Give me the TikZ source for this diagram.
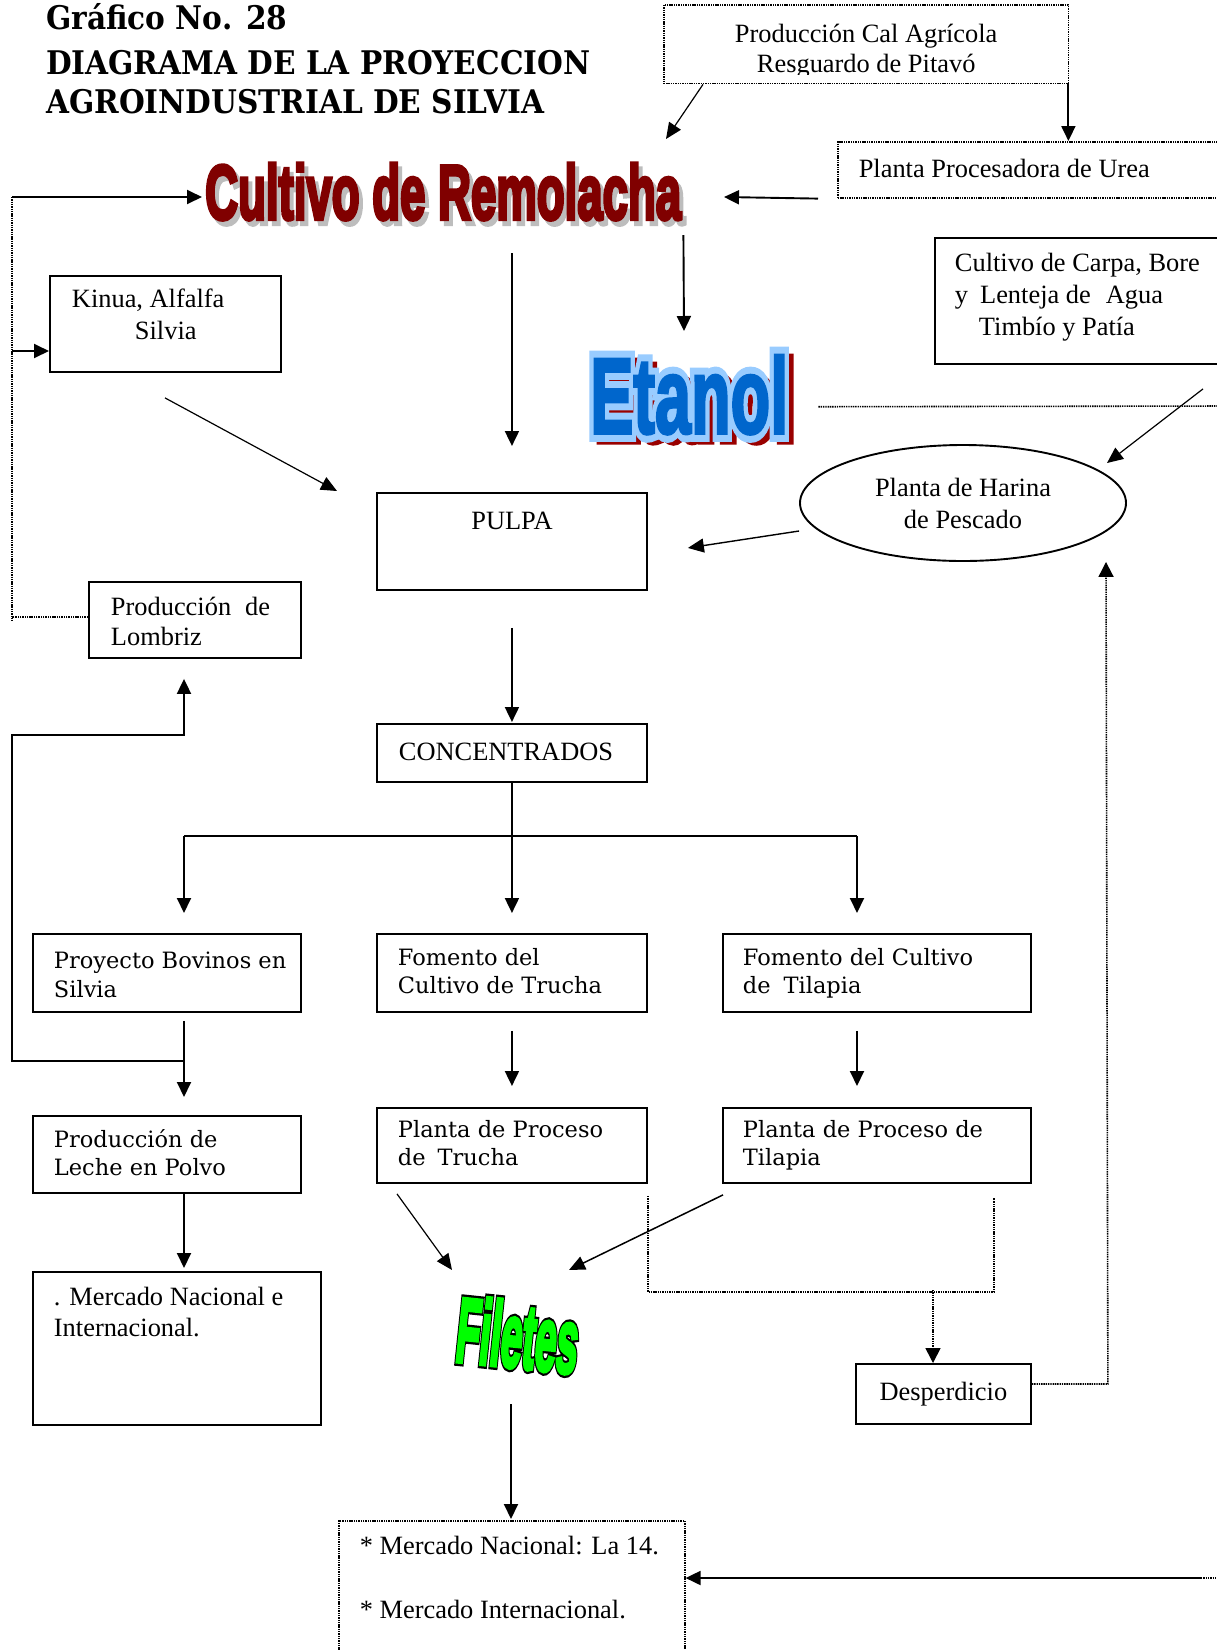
\documentclass[tikz,border=0pt]{standalone}
\usepackage{fontspec}
\usepackage{graphicx}
\setmainfont{Liberation Serif}
\newfontfamily\dvsfont{DejaVu Serif}
\newfontfamily\waM{Liberation Sans Bold}[FakeBold=5]
\newfontfamily\waE{Liberation Sans Bold}[FakeBold=3]
\newfontfamily\waO{Liberation Sans Bold}[FakeBold=16]
\newfontfamily\waS{Liberation Sans Bold}[FakeBold=12]
\newfontfamily\waF{Liberation Sans Bold}[FakeBold=10]
\usetikzlibrary{arrows.meta,shapes.geometric,calc}
\definecolor{remred}{HTML}{800000}
\definecolor{shgray}{HTML}{BDBDBD}
\definecolor{etblue}{HTML}{0066CC}
\definecolor{etlight}{HTML}{99CCFF}
\definecolor{etshadow}{HTML}{990000}
\definecolor{filgreen}{HTML}{00FF00}
% left-aligned text block: width, height, first baseline, left inset, line skip, content
\newcommand{\tbl}[6]{\vbox to #2{\hsize=#1\relax\parindent=0pt\parskip=0pt\leftskip=#4\relax\rightskip=0pt plus 1fil\relax\parfillskip=0pt plus 1fil\relax\baselineskip=#5\relax\lineskip=0pt\relax\lineskiplimit=-1000pt\relax\vskip\dimexpr#3-#5\relax\prevdepth=0pt\relax\noindent#6\par\vfill}}
% centred text block: width, height, first baseline, line skip, content
\newcommand{\tbc}[5]{\vbox to #2{\hsize=#1\relax\parindent=0pt\parskip=0pt\leftskip=0pt plus 1fil\relax\rightskip=0pt plus 1fil\relax\parfillskip=0pt\relax\baselineskip=#4\relax\lineskip=0pt\relax\lineskiplimit=-1000pt\relax\vskip\dimexpr#3-#4\relax\prevdepth=0pt\relax\noindent#5\par\vfill}}
% word-art text: font, colour, width, height, text
\newcommand{\wart}[5]{\resizebox{#3}{#4}{#1\fontsize{80}{80}\selectfont\color{#2}#5}}
\begin{document}
\begin{tikzpicture}[x=1pt,y=-1pt,
  box/.style={draw, line width=1.9pt, inner sep=0pt, anchor=north west},
  dbox/.style={draw, line width=1.6pt, dash pattern=on 1.4pt off 0.9pt, inner sep=0pt, anchor=north west},
  plain/.style={inner sep=0pt, anchor=north west},
  arr/.style={line width=1.9pt, -{Triangle[length=15pt,width=14pt]}},
  tarr/.style={line width=1.2pt, -{Triangle[length=16pt,width=14pt]}},
  dline/.style={line width=1.6pt, dash pattern=on 1.4pt off 0.9pt},
  darr/.style={dline, -{Triangle[length=15pt,width=15pt]}},
  tms/.style={font=\fontsize{26.4}{32}\selectfont},
  dvs/.style={font=\dvsfont\fontsize{22.5}{28}\selectfont},
  ttl/.style={inner sep=0pt, anchor=base west, font=\dvsfont\bfseries\fontsize{29.6}{36}\selectfont}]
\useasboundingbox (0,0) rectangle (1217,1650);
\clip (0,0) rectangle (1217,1650);
\fill[white] (0,0) rectangle (1217,1650);

% ---------- title ----------
\node[ttl] (t1) at (46,29) {\scalebox{1}[1.1]{Gráfico No. 28}};
\node[ttl] (t2) at (46,74) {\scalebox{1}[1.1]{DIAGRAMA DE LA PROYECCION}};
\node[ttl] (t3) at (46,113) {\scalebox{1}[1.1]{AGROINDUSTRIAL DE SILVIA}};

% ---------- top right boxes ----------
\begin{scope}
  \clip (660,0) rectangle (1072,74);
  \node[plain, tms] (cal) at (664,5) {\tbc{404pt}{78pt}{37pt}{30pt}{Producción Cal Agrícola\par Resguardo de Pitavó}};
\end{scope}
\draw[dline] (cal.north west) rectangle (cal.south east);

\node[dbox, tms] (urea) at (837,141) {\tbl{400pt}{56pt}{36pt}{21pt}{32pt}{Planta Procesadora de Urea}};

% ---------- Cultivo de Remolacha (word art) ----------
\node[plain] (remS) at (209,168) {\wart{\waM}{shgray}{476pt}{56pt}{Cultivo de Remolacha}};
\node[plain] (remolacha) at (205,163) {\wart{\waM}{remred}{476pt}{56pt}{Cultivo de Remolacha}};

% ---------- Etanol (word art) ----------
\node[plain] (etS) at (596,360) {\wart{\waS}{etshadow}{198pt}{78pt}{Etanol}};
\node[plain] (etO) at (590,355) {\wart{\waO}{etlight}{198pt}{78pt}{Etanol}};
\node[plain] (etanol) at (590,355) {\wart{\waE}{etblue}{198pt}{78pt}{Etanol}};

% ---------- left column ----------
\node[box, tms] (kinua) at (49,275) {\tbl{231pt}{96pt}{32pt}{22pt}{32pt}{Kinua, Alfalfa\par\hspace*{63pt}Silvia}};
\node[box, tms] (lombriz) at (88,581) {\tbl{212pt}{76pt}{34pt}{22pt}{30pt}{Producción\hspace{14pt}de\par Lombriz}};

% ---------- right column ----------
\node[box, tms] (carpa) at (934,237) {\tbl{300pt}{126pt}{34pt}{20pt}{32pt}{Cultivo de Carpa, Bore\par y\hspace{12pt}Lenteja de\hspace{15pt}Agua\par\hspace*{24pt}Timbío y Patía}};
\node[draw, ellipse, line width=1.9pt, minimum width=326pt, minimum height=116pt, inner sep=0pt, align=center, tms] (harina) at (963,503) {Planta de Harina\\de Pescado};

% ---------- centre ----------
\node[box, tms] (pulpa) at (376,492) {\tbc{270pt}{97pt}{37pt}{30pt}{PULPA}};
\node[box, tms] (conc) at (376,723) {\tbl{270pt}{58pt}{37pt}{22pt}{30pt}{CONCENTRADOS}};

% ---------- row 1 ----------
\node[box, dvs] (bovinos) at (32,933) {\tbl{268pt}{78pt}{35pt}{21pt}{29pt}{Proyecto Bovinos en\par Silvia}};
\node[box, dvs] (ftrucha) at (376,933) {\tbl{270pt}{78pt}{32pt}{21pt}{28pt}{Fomento del\par Cultivo de Trucha}};
\node[box, dvs] (ftilapia) at (722,933) {\tbl{308pt}{78pt}{32pt}{20pt}{28pt}{Fomento del Cultivo\par de\hspace{13pt}Tilapia}};

% ---------- row 2 ----------
\node[box, dvs] (leche) at (32,1115) {\tbl{268pt}{77pt}{32pt}{21pt}{28pt}{Producción de\par Leche en Polvo}};
\node[box, dvs] (ptrucha) at (376,1107) {\tbl{270pt}{75pt}{30pt}{21pt}{28pt}{Planta de Proceso\par de\hspace{12pt}Trucha}};
\node[box, dvs] (ptilapia) at (722,1107) {\tbl{308pt}{75pt}{30pt}{20pt}{28pt}{Planta de Proceso de\par Tilapia}};

% ---------- bottom ----------
\node[box, tms] (mercado) at (32,1271) {\tbl{288pt}{153pt}{34pt}{21pt}{31pt}{. Mercado Nacional e\par Internacional.}};
\node[box, tms] (desp) at (855,1363) {\tbc{175pt}{60pt}{37pt}{30pt}{Desperdicio}};
\node[dbox, tms] (mnac) at (338,1520) {\tbl{346pt}{150pt}{34pt}{21pt}{64pt}{* Mercado Nacional: La 14.\par * Mercado Internacional.}};

% ---------- Filetes (word art) ----------
\node[inner sep=0pt, rotate=-6] (filO) at (518,1335) {\wart{\waF}{black}{122pt}{66pt}{Filetes}};
\node[inner sep=0pt, rotate=-6] (filetes) at (518,1335) {\wart{\waM}{filgreen}{122pt}{66pt}{Filetes}};

% ---------- connectors ----------
\coordinate (remIn) at (666,139);
\draw[tarr] ($(cal.south west)+(39,1)$) -- (remIn);
\draw[arr] (cal.south east) -- (cal.south east |- urea.north);
\coordinate (remR) at (724,197);
\draw[arr] ($(urea.south west)+(-19,0)$) -- (remR);

% left feedback loop
\coordinate (lpT) at (12,197);
\coordinate (lpB) at (12,621);
\coordinate (lpK) at (12,351);
\draw[dline] (lpT) -- (lpB);
\draw[arr] (lpT) -- ($(lpT -| remolacha.west)+(-3,0)$);
\draw[arr] (lpK) -- (lpK -| kinua.west);
\draw[dline] ($(lombriz.west)+(0,-3)$) -- ($(lombriz.west -| lpT)+(0,-3)$);

\draw[tarr] ($(kinua.south west)+(116,25)$) -- ($(pulpa.north west)+(-39,-1)$);
\draw[arr] ($(remolacha.south -| pulpa.north)+(0,33)$) -- ($(pulpa.north)+(0,-46)$);
\draw[arr] ($(remolacha.south east)+(2,15)$) -- ($(etanol.north west)+(94,-24)$);
\coordinate (etR) at (1230,406);
\draw[dline] ($(etanol.east)+(30,12)$) -- (etR);
\draw[tarr] ($(carpa.south west)+(269,24)$) -- ($(harina.center)+(144,-40)$);
\draw[tarr, line width=1.4pt] ($(harina.west)+(0,28)$) -- ($(pulpa.east)+(40,6.5)$);
\draw[arr] ($(pulpa.south)+(0,37)$) -- ($(conc.north)+(0,-1)$);

% distribution from CONCENTRADOS
\coordinate (hL) at (184,836);
\coordinate (hR) at (857,836);
\draw[arr] (conc.south) -- ($(ftrucha.north)+(0,-20)$);
\draw[line width=1.9pt] (hL) -- (hR);
\draw[arr] (hL) -- ($(hL)+(0,77)$);
\draw[arr] (hR) -- ($(hR)+(0,77)$);

% row 1 -> row 2
\draw[arr] ($(bovinos.south west)+(152,8)$) -- ($(leche.north west)+(152,-18)$);
\draw[arr] ($(bovinos.south west)+(152,48)$) -- ++(-172,0) -- ++(0,-326) -- ++(172,0) -- ($(lombriz.south west)+(96,20)$);
\draw[arr] ($(ftrucha.south)+(0,18)$) -- ($(ptrucha.north)+(0,-21)$);
\draw[arr] ($(ftilapia.south west)+(135,18)$) -- ($(ptilapia.north west)+(135,-21)$);
\draw[arr] ($(leche.south west)+(152,0)$) -- ($(mercado.north west)+(152,-3)$);

% to Filetes
\draw[tarr] ($(ptrucha.south west)+(21,10)$) -- ($(filetes.center)+(-66,-65)$);
\draw[tarr, line width=1.5pt] ($(ptilapia.south west)+(1,11)$) -- ($(filetes.center)+(51,-65)$);

% waste bracket
\draw[dline] ($(ptrucha.south east)+(0,12)$) -- ++(0,96) -- ++(346,0) -- ++(0,-94);
\draw[darr] ($(desp.north west)+(78,-73)$) -- ($(desp.north west)+(78,0)$);
\draw[darr] ($(desp.north east)+(0,21)$) -- ++(76,0) -- ($(harina.south)+(143,0)$);

% to markets
\draw[arr] ($(filetes.center)+(-7,69)$) -- ($(mnac.north west)+(173,-1)$);
\coordinate (rB) at (1201,1578);
\draw[arr] (rB) -- (mnac.east |- rB);
\draw[dline] (rB) -- ++(20,0);
\end{tikzpicture}
\end{document}
